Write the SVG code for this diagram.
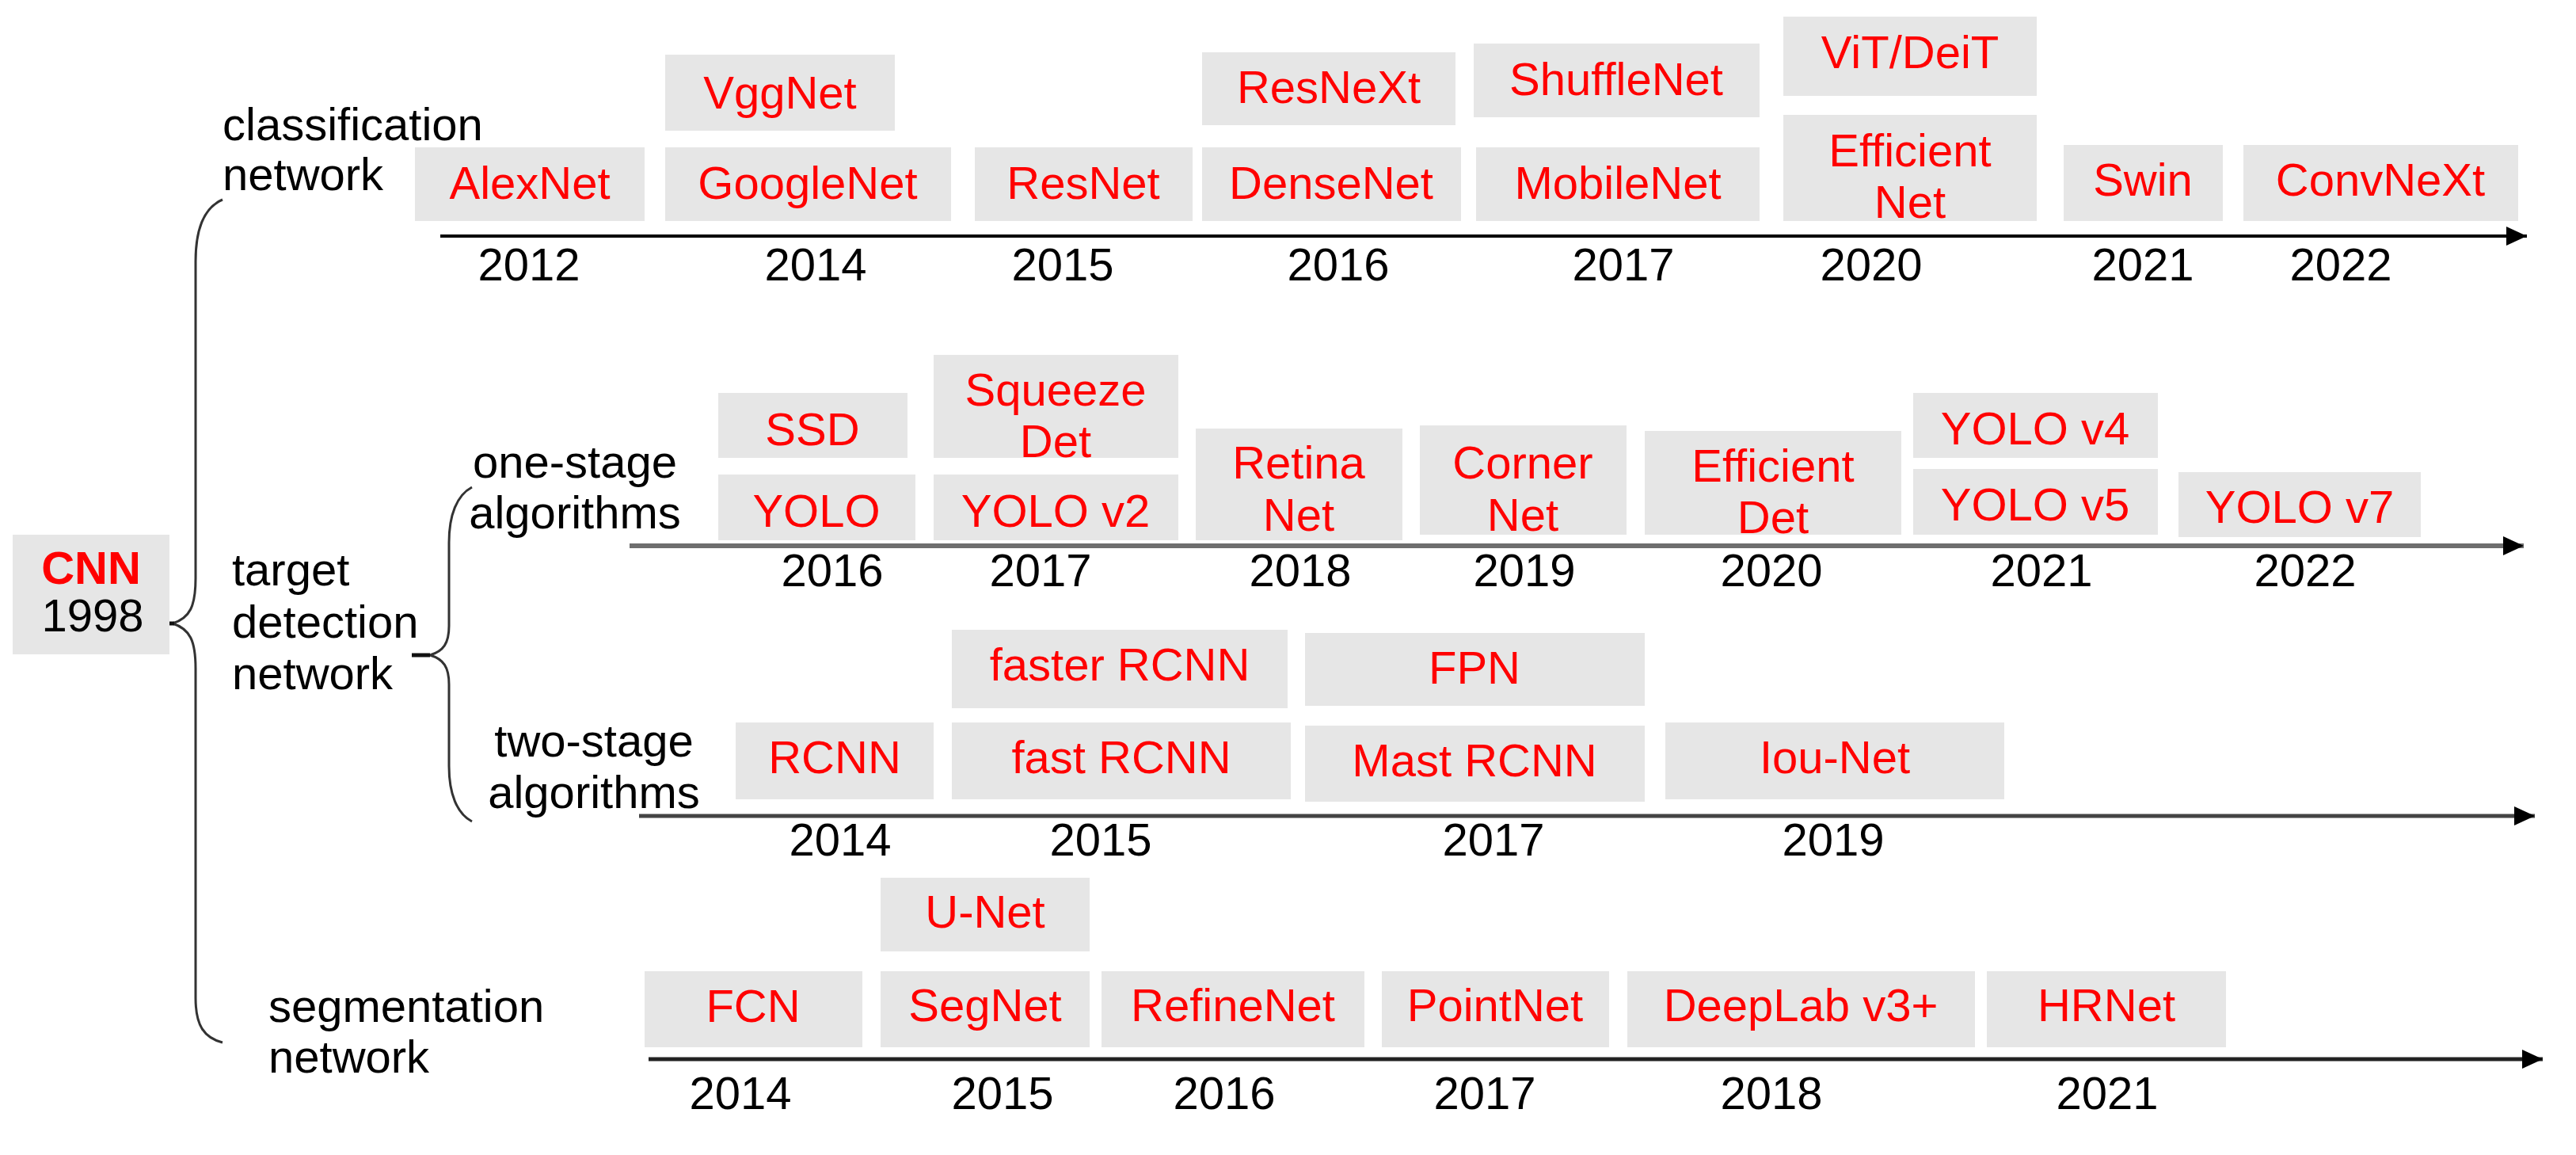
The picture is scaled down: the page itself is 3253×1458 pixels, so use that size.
<svg xmlns="http://www.w3.org/2000/svg" width="3253" height="1458" viewBox="0 0 3253 1458">
<style>
text{font-family:"Liberation Sans",Arial,sans-serif;font-size:58px}
.box{fill:#e6e6e6}
.red{fill:#ff0000;text-anchor:middle}
.yr{fill:#000;text-anchor:middle}
.lbl{fill:#000}
.mid{text-anchor:middle}
.brace{fill:none;stroke:#333;stroke-width:3}
.dash{stroke:#111;stroke-width:5}
</style>
<defs>
<marker id="arr" markerUnits="userSpaceOnUse" markerWidth="26" markerHeight="24" refX="26" refY="12" orient="auto">
<path d="M0,0 L26,12 L0,24 z" fill="#000"/>
</marker>
</defs>
<rect width="3253" height="1458" fill="#fff"/>

<g id="connectors">
<line x1="556" y1="298" x2="3191" y2="298" stroke="#000" stroke-width="4" marker-end="url(#arr)"/>
<line x1="795" y1="689" x2="3187" y2="689" stroke="#6e6e6e" stroke-width="6" marker-end="url(#arr)"/>
<line x1="807" y1="1030" x2="3201" y2="1030" stroke="#444" stroke-width="5" marker-end="url(#arr)"/>
<line x1="819" y1="1337" x2="3211" y2="1337" stroke="#222" stroke-width="5" marker-end="url(#arr)"/>
<path class="brace" d="M281,252 C258,262 247,290 247,330 L247,730 C247,765 240,780 218,787 C240,794 247,809 247,844 L247,1260 C247,1295 258,1310 281,1316"/>
<line class="dash" x1="200" y1="787" x2="220" y2="787"/>
<path class="brace" d="M596,615 C577,625 567,650 567,685 L567,790 C567,812 560,822 543,827 C560,832 567,842 567,864 L567,967 C567,1002 577,1027 596,1037"/>
<line class="dash" x1="520" y1="827" x2="543" y2="827"/>
</g>

<g id="cnn"><rect class="box" x="16" y="675" width="198" height="151"/>
<text x="115" y="737" text-anchor="middle" fill="#ff0000" font-weight="bold" font-size="56">CNN</text>
<text x="117" y="797" text-anchor="middle" fill="#000" font-size="56">1998</text></g>

<g id="labels">
<text class="lbl" x="281" y="177">classification</text>
<text class="lbl" x="281" y="240">network</text>
<text class="lbl" x="293" y="739">target</text>
<text class="lbl" x="293" y="805">detection</text>
<text class="lbl" x="293" y="870">network</text>
<text class="lbl mid" x="726" y="603">one-stage</text>
<text class="lbl mid" x="726" y="667">algorithms</text>
<text class="lbl mid" x="750" y="955">two-stage</text>
<text class="lbl mid" x="750" y="1020">algorithms</text>
<text class="lbl" x="339" y="1290">segmentation</text>
<text class="lbl" x="339" y="1354">network</text>
</g>

<g id="years">
<text class="yr" x="668" y="354">2012</text>
<text class="yr" x="1030" y="354">2014</text>
<text class="yr" x="1342" y="354">2015</text>
<text class="yr" x="1690" y="354">2016</text>
<text class="yr" x="2050" y="354">2017</text>
<text class="yr" x="2363" y="354">2020</text>
<text class="yr" x="2706" y="354">2021</text>
<text class="yr" x="2956" y="354">2022</text>
<text class="yr" x="1051" y="740">2016</text>
<text class="yr" x="1314" y="740">2017</text>
<text class="yr" x="1642" y="740">2018</text>
<text class="yr" x="1925" y="740">2019</text>
<text class="yr" x="2237" y="740">2020</text>
<text class="yr" x="2578" y="740">2021</text>
<text class="yr" x="2911" y="740">2022</text>
<text class="yr" x="1061" y="1080">2014</text>
<text class="yr" x="1390" y="1080">2015</text>
<text class="yr" x="1886" y="1080">2017</text>
<text class="yr" x="2315" y="1080">2019</text>
<text class="yr" x="935" y="1400">2014</text>
<text class="yr" x="1266" y="1400">2015</text>
<text class="yr" x="1546" y="1400">2016</text>
<text class="yr" x="1875" y="1400">2017</text>
<text class="yr" x="2237" y="1400">2018</text>
<text class="yr" x="2661" y="1400">2021</text>
</g>

<g id="alexnet"><rect class="box" x="524" y="186" width="290" height="93"/><text class="red" x="669" y="251">AlexNet</text></g>
<g id="vggnet"><rect class="box" x="840" y="69" width="290" height="96"/><text class="red" x="985" y="137">VggNet</text></g>
<g id="googlenet"><rect class="box" x="840" y="186" width="361" height="93"/><text class="red" x="1020" y="251">GoogleNet</text></g>
<g id="resnet"><rect class="box" x="1231" y="186" width="275" height="93"/><text class="red" x="1368" y="251">ResNet</text></g>
<g id="resnext"><rect class="box" x="1518" y="66" width="320" height="92"/><text class="red" x="1678" y="130">ResNeXt</text></g>
<g id="densenet"><rect class="box" x="1518" y="186" width="327" height="93"/><text class="red" x="1681" y="251">DenseNet</text></g>
<g id="shufflenet"><rect class="box" x="1861" y="55" width="361" height="93"/><text class="red" x="2041" y="120">ShuffleNet</text></g>
<g id="mobilenet"><rect class="box" x="1864" y="186" width="358" height="93"/><text class="red" x="2043" y="251">MobileNet</text></g>
<g id="vit"><rect class="box" x="2252" y="21" width="320" height="100"/><text class="red" x="2412" y="86">ViT/DeiT</text></g>
<g id="efficientnet"><rect class="box" x="2252" y="145" width="320" height="134"/><text class="red" x="2412" y="210">Efficient</text><text class="red" x="2412" y="275">Net</text></g>
<g id="swin"><rect class="box" x="2606" y="183" width="201" height="96"/><text class="red" x="2706" y="247">Swin</text></g>
<g id="convnext"><rect class="box" x="2833" y="183" width="347" height="96"/><text class="red" x="3006" y="247">ConvNeXt</text></g>

<g id="ssd"><rect class="box" x="907" y="496" width="239" height="82"/><text class="red" x="1026" y="562">SSD</text></g>
<g id="yolo"><rect class="box" x="907" y="599" width="249" height="83"/><text class="red" x="1031" y="665">YOLO</text></g>
<g id="squeezedet"><rect class="box" x="1179" y="448" width="309" height="130"/><text class="red" x="1333" y="512">Squeeze</text><text class="red" x="1333" y="577">Det</text></g>
<g id="yolov2"><rect class="box" x="1179" y="599" width="309" height="83"/><text class="red" x="1333" y="665">YOLO v2</text></g>
<g id="retinanet"><rect class="box" x="1510" y="541" width="261" height="141"/><text class="red" x="1640" y="604">Retina</text><text class="red" x="1640" y="670">Net</text></g>
<g id="cornernet"><rect class="box" x="1793" y="537" width="261" height="138"/><text class="red" x="1923" y="604">Corner</text><text class="red" x="1923" y="670">Net</text></g>
<g id="efficientdet"><rect class="box" x="2077" y="544" width="324" height="131"/><text class="red" x="2239" y="608">Efficient</text><text class="red" x="2239" y="673">Det</text></g>
<g id="yolov4"><rect class="box" x="2416" y="496" width="309" height="82"/><text class="red" x="2570" y="561">YOLO v4</text></g>
<g id="yolov5"><rect class="box" x="2416" y="592" width="309" height="83"/><text class="red" x="2570" y="657">YOLO v5</text></g>
<g id="yolov7"><rect class="box" x="2751" y="596" width="306" height="82"/><text class="red" x="2904" y="660">YOLO v7</text></g>

<g id="fasterrcnn"><rect class="box" x="1202" y="795" width="424" height="99"/><text class="red" x="1414" y="859">faster RCNN</text></g>
<g id="fpn"><rect class="box" x="1648" y="799" width="429" height="92"/><text class="red" x="1862" y="863">FPN</text></g>
<g id="rcnn"><rect class="box" x="929" y="912" width="250" height="97"/><text class="red" x="1054" y="976">RCNN</text></g>
<g id="fastrcnn"><rect class="box" x="1202" y="912" width="428" height="97"/><text class="red" x="1416" y="976">fast RCNN</text></g>
<g id="mastrcnn"><rect class="box" x="1648" y="916" width="429" height="96"/><text class="red" x="1862" y="980">Mast RCNN</text></g>
<g id="iounet"><rect class="box" x="2103" y="912" width="428" height="97"/><text class="red" x="2317" y="976">Iou-Net</text></g>

<g id="unet"><rect class="box" x="1112" y="1108" width="264" height="93"/><text class="red" x="1244" y="1171">U-Net</text></g>
<g id="fcn"><rect class="box" x="814" y="1226" width="275" height="96"/><text class="red" x="951" y="1290">FCN</text></g>
<g id="segnet"><rect class="box" x="1112" y="1226" width="264" height="96"/><text class="red" x="1244" y="1289">SegNet</text></g>
<g id="refinenet"><rect class="box" x="1391" y="1226" width="332" height="96"/><text class="red" x="1557" y="1289">RefineNet</text></g>
<g id="pointnet"><rect class="box" x="1745" y="1226" width="287" height="96"/><text class="red" x="1888" y="1289">PointNet</text></g>
<g id="deeplab"><rect class="box" x="2055" y="1226" width="439" height="96"/><text class="red" x="2274" y="1289">DeepLab v3+</text></g>
<g id="hrnet"><rect class="box" x="2509" y="1226" width="302" height="96"/><text class="red" x="2660" y="1289">HRNet</text></g>
</svg>
